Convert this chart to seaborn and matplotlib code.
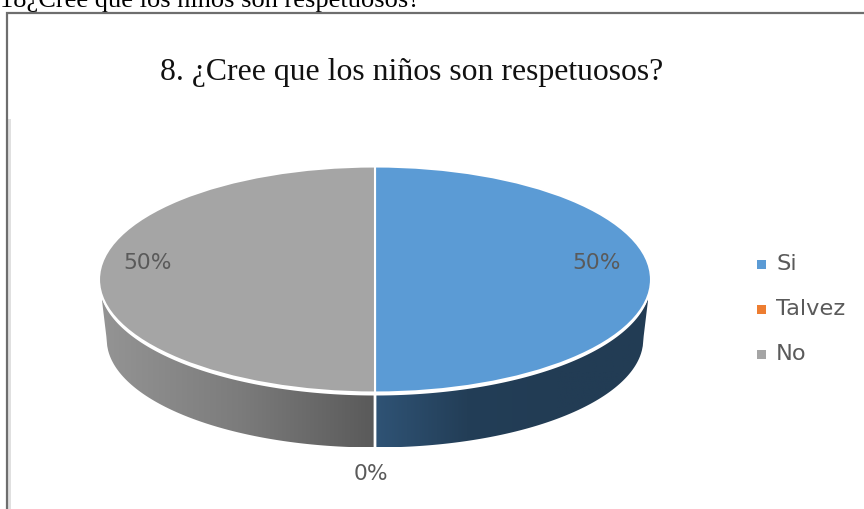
import numpy as np
import matplotlib.pyplot as plt
import seaborn as sns
from matplotlib.colors import LinearSegmentedColormap
from matplotlib.patches import Polygon, Rectangle

sns.set_theme(style="white")
plt.rcParams["font.family"] = ["DejaVu Sans"]

CATEGORIES = ["Si", "Talvez", "No"]
VALUES = [50, 0, 50]
PCT_LABELS = ["50%", "0%", "50%"]
COLORS = ["#5B9BD5", "#ED7D31", "#A5A5A5"]
HEADING = "18¿Cree que los niños son respetuosos?"
TITLE = "8. ¿Cree que los niños son respetuosos?"

W, H = 864, 510
CX, CY, RX, RY = 375, 280.5, 276, 113
TEXT_GREY = "#5a5a5a"


def px(x, y):
    # pixel position -> data units of the unit pie
    return (x - CX) / RX, (CY - y) / RY


def draw_wall(ax, x0, x1, stops):
    xs = np.linspace(x0, x1, 300)
    top = -np.sqrt(np.clip(1 - xs**2, 0, 1)) - 3 / RY
    # bottom rim is a bit narrower than the top, the side tapers in
    low = -np.sqrt(np.clip(1 - (xs / 0.972) ** 2, 0, 1)) * 108 / RY - 60 / RY
    low = np.where(np.abs(xs) > 0.972,
                   np.interp(np.abs(xs), [0.972, 0.99], [-60 / RY, -19 / RY]),
                   low)
    poly = Polygon(
        np.vstack([np.column_stack([xs, top]), np.column_stack([xs[::-1], low[::-1]])]),
        closed=True, facecolor="none", edgecolor="none",
    )
    ax.add_patch(poly)
    cmap = LinearSegmentedColormap.from_list("wall", stops)
    grad = np.linspace(0, 1, 256).reshape(1, -1)
    im = ax.imshow(grad, cmap=cmap, extent=[x0, x1, low.min(), top.max()],
                   aspect="auto", zorder=1)
    im.set_clip_path(poly)


fig = plt.figure(figsize=(W / 100, H / 100), dpi=100, facecolor="white")
ax = fig.add_axes([0, 0, 1, 1])

ax.pie(VALUES, colors=COLORS, startangle=90, counterclock=False, radius=1,
       wedgeprops={"edgecolor": "white", "linewidth": 1.5, "zorder": 3})
ax.set_aspect("auto")

draw_wall(ax, -0.99, -0.005, ["#949494", "#7c7c7c", "#5a5a5a"])
draw_wall(ax, 0.005, 0.99, ["#2f5375", "#233e57", "#223c54", "#223c54"])

x0, y0 = px(0, H)
x1, y1 = px(W, 0)
ax.set_xlim(x0, x1)
ax.set_ylim(y0, y1)
ax.axis("off")

# outer frame of the pasted chart: only top and left are visible
ax.plot(*zip(px(7.5, H), px(7.5, 14), px(W, 14)), color="#6e6e6e", linewidth=1.6,
        zorder=5, solid_joinstyle="miter")
ax.add_patch(Rectangle(px(8.5, H), 3 / RX, (H - 120) / RY, facecolor="#e0e0e0",
                       edgecolor="none", zorder=4))

ax.text(*px(0, 7), HEADING, family=["Liberation Serif"], fontsize=19,
        color="black", ha="left", va="baseline", clip_on=True)
ax.text(*px(411.5, 80.5), TITLE, family=["Liberation Serif"], fontsize=22.9,
        color="#111111", ha="center", va="baseline")

label_pos = [(597, 263), (371, 474), (148, 263)]
for lab, (lx, ly) in zip(PCT_LABELS, label_pos):
    ax.text(*px(lx, ly), lab, fontsize=15.7, color=TEXT_GREY, ha="center", va="center",
            zorder=6)

legend_y = [265, 310, 355]
for name, col, ly in zip(CATEGORIES, COLORS, legend_y):
    ax.add_patch(Rectangle(px(757, ly + 4.5), 9 / RX, 9 / RY, facecolor=col,
                           edgecolor="none"))
    ax.text(*px(776, ly - 1), name, fontsize=16.2, color=TEXT_GREY, ha="left", va="center")

fig.savefig("out.png", dpi=100)
